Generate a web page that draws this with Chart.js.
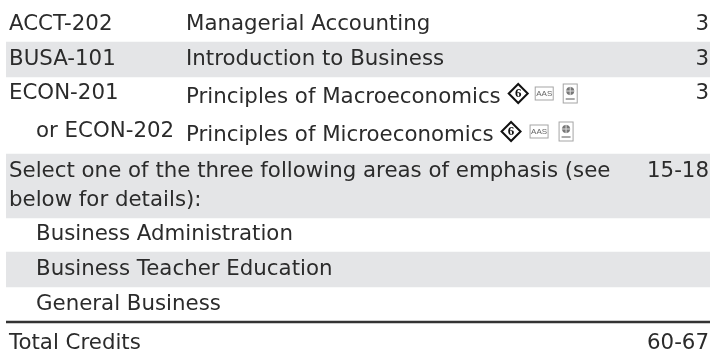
<!DOCTYPE html>
<html>
<head>
<meta charset="utf-8">
<style>
html, body { margin: 0; padding: 0; background: #fff; }
canvas { display: block; }
</style>
<script src="https://cdn.jsdelivr.net/npm/chart.js@4/dist/chart.umd.min.js"></script>
</head>
<body>
<canvas id="table_chart" width="710" height="352"></canvas>
<script>
const codes = ['ACCT-202', 'BUSA-101', 'ECON-201', 'Select one of the three following areas of emphasis (see', 'below for details):', 'Total Credits'];
const indented = ['or ECON-202', 'Business Administration', 'Business Teacher Education', 'General Business'];
const titles = ['Managerial Accounting', 'Introduction to Business', 'Principles of Macroeconomics', 'Principles of Microeconomics'];
const credits = ['3', '3', '3', '15-18', '60-67'];

// y scale is just pixels of the table, top down
const codeRows = [24, 59, 93, 171, 200, 343];
const indentRows = [131, 234, 269, 304];
const titleRows = [24, 59, 97, 135];
const creditRows = [24, 59, 93, 171, 343];
const rowHeights = [42, 35, 77, 64, 34, 35, 34, 2, 29];
const rowFills = ['transparent', '#e4e5e7', 'transparent', '#e4e5e7', 'transparent', '#e4e5e7', 'transparent', '#333333', 'transparent'];

const TEXT = '#2b2b2b';
const FONT = 'DejaVu Sans';
const SIZE = 21.33;

function textAxis(position, padding, rows, labels){
    return {
        position: position,
        min: 0,
        max: 352,
        reverse: true,
        stacked: true,
        grid: {display: false, drawTicks: false},
        border: {display: false},
        afterBuildTicks: scale => { scale.ticks = rows.map(v => ({value: v})); },
        // mirrored labels still reserve their padding, drop that so the plot fills the canvas
        afterFit: scale => { scale.width = 0; scale.paddingTop = 0; scale.paddingBottom = 0; },
        ticks: {
            z: 1,
            mirror: true,
            padding: padding,
            autoSkip: false,
            maxRotation: 0,
            color: TEXT,
            font: {family: FONT, size: SIZE},
            callback: (value, i) => labels[i]
        }
    };
}

// the little badges after the two Principles titles
const badges = {
    id: 'badges',
    afterDatasetsDraw(chart){
        const ctx = chart.ctx;
        const y = chart.scales.y;
        ctx.save();
        [[2, 7, 34, 62], [3, 7, 36, 65]].forEach(([t, a, b, c]) => {
            ctx.font = SIZE + 'px "' + FONT + '"';
            const end = 186 + ctx.measureText(titles[t]).width;
            const cy = y.getPixelForValue(titleRows[t]) - 3.5;
            drawDiamond(ctx, end + a + 10.5, cy);
            drawAas(ctx, end + b, cy);
            drawDoc(ctx, end + c, cy);
        });
        ctx.restore();
    }
};

function drawDiamond(ctx, cx, cy){
    ctx.beginPath();
    ctx.moveTo(cx, cy - 9.5);
    ctx.lineTo(cx + 9.5, cy);
    ctx.lineTo(cx, cy + 9.5);
    ctx.lineTo(cx - 9.5, cy);
    ctx.closePath();
    ctx.lineWidth = 2;
    ctx.strokeStyle = '#111';
    ctx.stroke();
    ctx.fillStyle = '#111';
    ctx.font = 'bold 13px "Liberation Serif"';
    ctx.textAlign = 'center';
    ctx.textBaseline = 'middle';
    ctx.fillText('6', cx, cy + 0.5);
}

function drawAas(ctx, x, cy){
    ctx.lineWidth = 1;
    ctx.strokeStyle = '#a5a5a5';
    ctx.strokeRect(x + 0.5, cy - 6.5, 18, 13);
    ctx.fillStyle = '#666';
    ctx.font = '8px "Liberation Sans"';
    ctx.textAlign = 'center';
    ctx.textBaseline = 'middle';
    ctx.fillText('AAS', x + 9.5, cy + 0.5);
}

function drawDoc(ctx, x, cy){
    ctx.lineWidth = 1;
    ctx.strokeStyle = '#a5a5a5';
    ctx.strokeRect(x + 0.5, cy - 9.5, 14, 19);
    ctx.fillStyle = '#777';
    ctx.beginPath();
    ctx.arc(x + 7.5, cy - 2.5, 4, 0, Math.PI * 2);
    ctx.fill();
    ctx.strokeStyle = '#ddd';
    ctx.beginPath();
    ctx.moveTo(x + 3, cy - 2.5); ctx.lineTo(x + 12, cy - 2.5);
    ctx.moveTo(x + 7.5, cy - 7); ctx.lineTo(x + 7.5, cy + 2);
    ctx.stroke();
    ctx.strokeStyle = '#555';
    ctx.beginPath();
    ctx.moveTo(x + 3, cy + 5.5); ctx.lineTo(x + 12, cy + 5.5);
    ctx.stroke();
}

new Chart('table_chart', {
    type: 'bar',
    data: {
        labels: ['rows'],
        datasets: rowHeights.map((h, i) => ({
            data: [h],
            backgroundColor: rowFills[i],
            borderWidth: 0,
            barPercentage: 1,
            categoryPercentage: 1,
            stack: 'rows'
        }))
    },
    options: {
        responsive: false,
        animation: false,
        layout: {padding: {left: 6, right: 0, top: 0, bottom: 0}},
        plugins: {legend: {display: false}, tooltip: {enabled: false}, title: {display: false}},
        scales: {
            x: {display: false, stacked: true},
            y: textAxis('left', 3, codeRows, codes),
            indentAxis: textAxis('left', 30, indentRows, indented),
            titleAxis: textAxis('left', 180, titleRows, titles),
            creditAxis: textAxis('right', -1, creditRows, credits)
        }
    },
    plugins: [badges]
});
</script>
</body>
</html>
